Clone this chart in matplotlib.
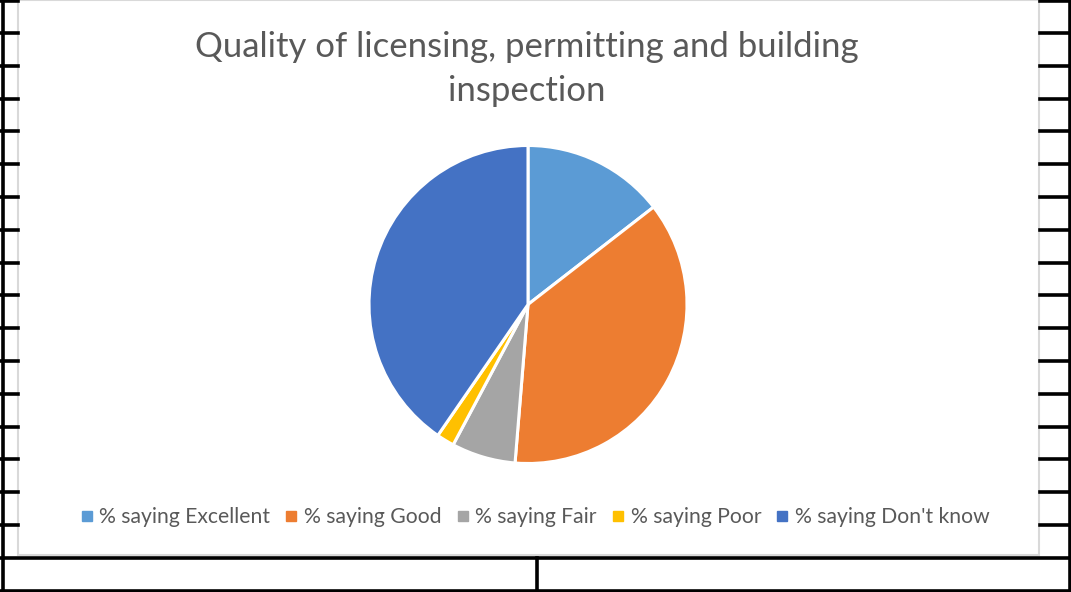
import matplotlib
matplotlib.use('Agg')
import matplotlib.pyplot as plt
from matplotlib.lines import Line2D
from matplotlib.patches import Rectangle

# Data (percent of respondents)
labels = ['% saying Excellent', '% saying Good', '% saying Fair',
          '% saying Poor', "% saying Don't know"]
values = [14.5, 36.8, 6.5, 1.8, 40.4]
colors = ['#5B9BD5', '#ED7D31', '#A5A5A5', '#FFC000', '#4472C4']
title = 'Quality of licensing, permitting and building\ninspection'

W, H = 1071, 592
plt.rcParams['font.family'] = ['Lato', 'DejaVu Sans']

fig = plt.figure(figsize=(W / 100, H / 100), dpi=100)
fig.patch.set_facecolor('white')

def fx(x):
    return x / W

def fy(y):
    return 1 - y / H

# Chart area frame
fig.patches.append(Rectangle((fx(18), fy(555)), fx(1039) - fx(18), fy(0) - fy(555),
                             transform=fig.transFigure, facecolor='white',
                             edgecolor='#D9D9D9', linewidth=1.5, zorder=-5))

# Spreadsheet grid lines around the chart
grid = []
grid.append(([3, 3], [0, 592]))
grid.append(([1069.5, 1069.5], [0, 592]))
grid.append(([0, W], [558, 558]))
grid.append(([0, W], [590.5, 590.5]))
grid.append(([537, 537], [558, 592]))
for k in range(16):
    y = 33 + 32.8 * k
    grid.append(([0, 18], [y, y]))
    grid.append(([1040, W], [y, y]))
grid.append(([0, 18], [1, 1]))
grid.append(([1040, W], [1, 1]))
for xs, ys in grid:
    fig.lines.append(Line2D([fx(v) for v in xs], [fy(v) for v in ys],
                            transform=fig.transFigure, color='black', linewidth=2.6))

# Pie
cx, cy, r = 528, 304.5, 159
ax = fig.add_axes([fx(cx - r), fy(cy + r), 2 * r / W, 2 * r / H], zorder=5)
wedges, _ = ax.pie(values, colors=colors, startangle=90, counterclock=False,
                   radius=1, wedgeprops=dict(edgecolor='white', linewidth=2.2))
for w in wedges:
    w.set_clip_on(False)
ax.set_xlim(-1, 1)
ax.set_ylim(-1, 1)
ax.set_aspect('auto')
ax.axis('off')

fig.text(fx(527), fy(69), title, ha='center', va='center', fontsize=25,
         color='#595959', linespacing=1.47)

handles = [Line2D([], [], marker='s', linestyle='none', markersize=7,
                  markerfacecolor=c, markeredgecolor=c) for c in colors]
fig.legend(handles, labels, loc='center', bbox_to_anchor=(fx(535), fy(517)),
           ncol=5, frameon=False, fontsize=15.2, handlelength=0.6,
           handletextpad=0.3, columnspacing=0.7, labelcolor='#595959')

fig.savefig('out.png', dpi=100)
